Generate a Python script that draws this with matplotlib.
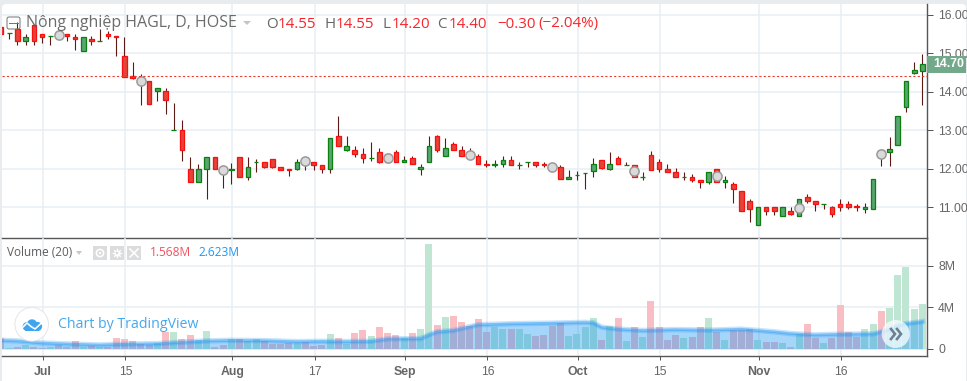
# HAGL daily candles with volume pane, TradingView look

import numpy as np
import matplotlib.pyplot as plt
from matplotlib.patches import Circle, Rectangle, FancyBboxPatch, Polygon

opens = [15.67, 15.52, 15.62, 15.31, 15.72, 15.51, 15.46, 15.50, 15.51, 15.41,
         15.07, 15.36, 15.31, 15.51, 15.46, 14.92, 14.40, 14.33, 14.27, 14.01,
         14.01, 13.00, 13.00, 12.01, 11.65, 12.01, 12.30, 12.00, 11.96, 12.30,
         11.80, 12.19, 12.19, 12.25, 12.06, 12.01, 12.01, 12.19, 12.19, 12.10,
         12.00, 12.86, 12.49, 12.49, 12.39, 12.29, 12.44, 12.39, 12.44, 12.17,
         12.29, 12.00, 12.17, 12.86, 12.34, 12.65, 12.49, 12.38, 12.34, 12.13,
         12.09, 12.12, 12.23, 12.10, 12.18, 12.18, 12.14, 12.08, 12.05, 11.74,
         11.84, 11.90, 11.94, 12.23, 11.99, 12.29, 12.10, 12.10, 11.80, 12.35,
         12.19, 12.01, 11.91, 11.80, 11.80, 11.70, 11.65, 12.01, 11.65, 11.60,
         11.42, 11.16, 10.55, 11.00, 11.00, 10.79, 10.90, 10.79, 11.26, 11.16,
         11.10, 11.00, 11.10, 11.10, 11.05, 10.95, 10.95, 12.50, 12.44, 12.61,
         13.61, 14.50, 14.55]
highs = [15.67, 15.52, 15.80, 15.50, 15.72, 15.51, 15.46, 15.50, 15.51, 15.51,
         15.41, 15.46, 15.62, 15.57, 15.46, 15.43, 14.77, 14.46, 14.27, 14.11,
         14.11, 13.71, 13.27, 12.31, 12.12, 12.30, 12.30, 12.00, 12.15, 12.30,
         12.31, 12.25, 12.19, 12.25, 12.06, 12.01, 12.25, 12.19, 12.19, 12.10,
         12.80, 13.36, 12.86, 12.60, 12.54, 12.70, 12.54, 12.39, 12.49, 12.34,
         12.34, 12.13, 12.86, 12.89, 12.81, 12.70, 12.60, 12.54, 12.39, 12.23,
         12.23, 12.34, 12.34, 12.18, 12.18, 12.18, 12.18, 12.08, 12.10, 11.96,
         11.95, 11.90, 12.29, 12.23, 12.45, 12.34, 12.19, 12.10, 11.91, 12.46,
         12.25, 12.12, 12.02, 11.91, 11.87, 11.70, 11.91, 12.01, 11.81, 11.66,
         11.42, 11.21, 11.00, 11.00, 11.00, 11.00, 11.00, 11.21, 11.36, 11.16,
         11.10, 11.05, 11.21, 11.16, 11.10, 11.11, 11.75, 12.50, 12.83, 13.36,
         14.27, 14.77, 14.98]
lows = [15.50, 15.37, 15.22, 15.22, 15.22, 15.27, 15.22, 15.42, 15.32, 15.08,
        15.07, 15.22, 15.31, 15.37, 14.93, 14.39, 14.34, 13.66, 13.69, 13.76,
        13.43, 13.00, 12.21, 11.65, 11.65, 11.22, 12.01, 11.51, 11.60, 11.80,
        11.71, 11.92, 12.03, 12.03, 11.96, 11.81, 11.98, 11.97, 11.97, 11.90,
        11.90, 12.60, 12.46, 12.30, 12.15, 12.20, 12.15, 12.17, 12.17, 12.17,
        12.12, 11.85, 12.17, 12.45, 12.34, 12.49, 12.34, 12.30, 12.12, 12.06,
        12.06, 12.06, 12.09, 12.01, 12.06, 12.06, 12.06, 12.00, 11.74, 11.74,
        11.70, 11.49, 11.80, 12.00, 11.96, 12.12, 12.10, 11.78, 11.71, 11.96,
        11.92, 11.91, 11.80, 11.71, 11.67, 11.50, 11.61, 11.65, 11.50, 11.12,
        10.90, 10.62, 10.55, 10.81, 10.81, 10.79, 10.81, 10.79, 11.12, 10.91,
        10.97, 10.76, 10.91, 10.97, 10.91, 10.86, 10.95, 12.08, 12.08, 12.61,
        13.48, 14.46, 13.66]
closes = [15.50, 15.52, 15.31, 15.41, 15.31, 15.41, 15.46, 15.45, 15.46, 15.36,
          15.41, 15.31, 15.31, 15.46, 15.41, 14.39, 14.37, 14.27, 13.69, 14.11,
          13.80, 13.00, 12.50, 11.65, 12.01, 12.30, 12.01, 11.95, 12.01, 11.80,
          12.06, 12.19, 12.06, 12.06, 11.96, 11.96, 12.19, 12.12, 12.11, 12.00,
          12.80, 12.60, 12.60, 12.39, 12.29, 12.29, 12.17, 12.17, 12.17, 12.23,
          12.12, 12.05, 12.60, 12.48, 12.54, 12.49, 12.34, 12.30, 12.12, 12.09,
          12.13, 12.23, 12.09, 12.10, 12.18, 12.09, 12.09, 12.02, 11.74, 11.79,
          11.84, 11.90, 12.13, 12.03, 12.13, 12.12, 12.10, 11.78, 11.80, 11.96,
          12.01, 11.91, 11.80, 11.80, 11.70, 11.65, 11.91, 11.65, 11.70, 11.48,
          10.90, 10.95, 11.00, 10.90, 10.90, 11.00, 10.84, 11.21, 11.16, 11.10,
          11.10, 10.84, 11.00, 11.00, 11.00, 11.00, 11.75, 12.30, 12.51, 13.36,
          14.27, 14.56, 14.71]

# millions of shares
volumes = [1.00, 0.10, 0.16, 0.36, 0.16, 0.10, 0.20, 0.33, 0.13, 0.75,
           0.13, 0.26, 0.20, 0.13, 1.04, 0.94, 0.75, 0.45, 0.40, 0.55,
           1.63, 1.63, 0.94, 1.33, 0.85, 1.72, 0.16, 0.36, 0.94, 0.94,
           0.75, 0.94, 0.75, 0.49, 0.49, 0.59, 0.59, 0.65, 0.26, 0.36,
           1.43, 1.04, 0.49, 1.53, 1.82, 1.24, 2.11, 1.53, 1.33, 1.04,
           1.53, 1.92, 10.10, 2.31, 3.09, 3.19, 2.60, 2.20, 2.89, 1.63,
           2.11, 1.92, 1.92, 1.92, 1.43, 1.24, 1.33, 2.20, 2.50, 1.24,
           1.43, 2.11, 2.99, 0.85, 2.20, 2.99, 0.75, 2.11, 1.14, 4.65,
           2.11, 0.85, 1.33, 1.04, 1.14, 2.11, 2.99, 1.63, 0.85, 1.82,
           1.82, 1.92, 0.85, 0.65, 0.65, 0.55, 0.16, 1.43, 2.41, 1.04,
           0.55, 1.04, 4.26, 1.63, 1.14, 1.92, 2.41, 3.67, 3.97, 7.09,
           7.87, 3.87, 4.36]
volume_dir = ("rgrgrrgrrr" "grgrrrrrrg" "rgrrggrrgr" "ggrrrrgrrr"
              "grgrrgrrrg" "rggrgrrrrr" "ggrggrrrrg" "gggrgrgrgr"
              "rrrgrrgrgr" "rrgrrgrgrr" "grrrrggrgg" "ggg")

ma_idx = [0, 2, 5, 8, 12, 14, 19, 22, 25, 28, 32, 36, 39, 41, 45, 47, 51, 52, 53,
          55, 58, 62, 67, 71, 72, 73, 75, 78, 82, 86, 90, 94, 96, 99, 102, 106,
          108, 109, 110, 112]
ma_vals = [0.81, 0.75, 0.55, 0.46, 0.36, 0.42, 0.49, 0.62, 0.75, 0.81, 0.78, 0.68,
           0.72, 0.68, 0.72, 0.94, 0.98, 1.33, 1.63, 1.76, 2.31, 2.41, 2.47, 2.54,
           2.50, 2.08, 1.89, 1.76, 1.85, 1.79, 1.89, 1.63, 1.46, 1.33, 1.40, 1.43,
           1.85, 2.24, 2.41, 2.62]

event_idx = [7, 17, 27, 37, 47, 57, 67, 77, 87, 97, 107]
event_price = [15.47, 14.29, 11.97, 12.20, 12.28, 12.35, 12.04, 11.94, 11.82, 10.98, 12.38]

last_close = 14.40
date_ticks = [5, 15, 28, 38, 49, 59, 70, 80, 92, 102]
date_labels = ['Jul', '15', 'Aug', '17', 'Sep', '16', 'Oct', '15', 'Nov', '16']
price_ticks = [11, 12, 13, 14, 15, 16]
volume_ticks = [0, 4, 8]
volume_tick_labels = ['0', '4M', '8M']

GRID = '#e6eef4'
AXIS = '#565656'
TEXT = '#666666'
W, H = 967, 381
PX = 0.72  # one pixel in points at dpi 100

plt.rcParams['font.family'] = ['Liberation Sans', 'DejaVu Sans']

fig = plt.figure(figsize=(W / 100, H / 100), dpi=100, facecolor='#e9ecef')

back = fig.add_axes([0, 0, 1, 1], zorder=-1)
back.set_xlim(0, W)
back.set_ylim(H, 0)
back.axis('off')
back.add_patch(FancyBboxPatch((6, 8), 956, 400, boxstyle='round,pad=4,rounding_size=4',
                              fc='white', ec='none'))


def pane(top, bottom):
    return fig.add_axes([2 / W, 1 - bottom / H, 925 / W, (bottom - top) / H], facecolor='none')


ax = pane(4, 237.5)
vol = pane(237.5, 356)

# 8.227 px per bar, first bar at x = 1
x_lim = ((2 - 1) / 8.227, (927 - 1) / 8.227)
x = np.arange(len(closes))
grid_x = [d + 0.12 for d in date_ticks]

for a in (ax, vol):
    a.set_xlim(*x_lim)
    a.set_axisbelow(True)
    a.grid(True, color=GRID, lw=1.5 * PX)
    a.yaxis.tick_right()
    for s in ('top', 'left'):
        a.spines[s].set_visible(False)
    for s in ('right', 'bottom'):
        a.spines[s].set_color(AXIS)
        a.spines[s].set_linewidth(1.4 * PX)
    a.set_xticks(grid_x)

# price pane
ax.set_ylim(16 - (237.5 - 14.7) / 38.55, 16 + (14.7 - 4) / 38.55)
ax.set_yticks(price_ticks)
ax.set_yticklabels(['%.2f' % p for p in price_ticks])
ax.tick_params(axis='y', length=4, width=PX, color=AXIS, labelcolor=TEXT, labelsize=8.8, pad=4)
ax.tick_params(axis='x', length=0, labelbottom=False)

ax.vlines(x, lows, highs, color='#5c1a14', lw=1.1 * PX, zorder=2)
is_up = np.array(closes) >= np.array(opens)
body_low = np.minimum(opens, closes)
body_h = np.abs(np.array(closes) - np.array(opens))
ax.bar(x, body_h, bottom=body_low, width=0.56,
       color=['#5aa574' if u else '#e2453a' for u in is_up],
       edgecolor=['#0b800f' if u else '#fa0f0f' for u in is_up],
       linewidth=1.3 * PX, zorder=3)
ax.scatter(event_idx, event_price, s=44, facecolor='#dadada', edgecolor='#9a9a9a',
           linewidth=1.1, zorder=4)
ax.axhline(last_close, color='#ee3b30', lw=1.1 * PX, ls=(0, (2, 2)), zorder=5)

# volume pane
vol.set_ylim(-(356 - 348.7) / 10.35, (348.7 - 237.5) / 10.35)
vol.set_yticks(volume_ticks)
vol.set_yticklabels(volume_tick_labels)
vol.tick_params(axis='y', length=4, width=PX, color=AXIS, labelcolor=TEXT, labelsize=8.8, pad=4)
vol.tick_params(axis='x', length=3, width=PX, color=AXIS, labelcolor=TEXT, labelsize=8.8, pad=4)
vol.set_xticklabels(date_labels)
for lab in vol.get_xticklabels():
    if lab.get_text().isalpha():
        lab.set_fontweight('bold')

vol.bar(x, volumes, width=0.85, color=['#bee6d2' if d == 'g' else '#f8bec3' for d in volume_dir],
        zorder=2)
vol.fill_between(ma_idx, 0, ma_vals, color='#2196f3', alpha=0.4, lw=0, zorder=3)
vol.plot(ma_idx, ma_vals, color='#2196f3', alpha=0.25, lw=5.5 * PX, zorder=4)
vol.plot(ma_idx, ma_vals, color='#2196f3', alpha=0.45, lw=2.6 * PX, zorder=4)

# overlay in pixel coordinates: legends, logo, last price tag
ov = fig.add_axes([0, 0, 1, 1], facecolor='none', zorder=5)
ov.set_xlim(0, W)
ov.set_ylim(H, 0)
ov.axis('off')

SANS = ['Open Sans', 'DejaVu Sans']


def label(px, py, s, color, size, **kw):
    ov.text(px, py, s, color=color, fontsize=size, va='center', family=SANS, **kw)


ov.add_patch(FancyBboxPatch((8, 18), 11, 10, boxstyle='round,pad=1,rounding_size=2',
                            fc='none', ec='#777777', lw=PX))
ov.plot([9, 18], [23, 23], color='#777777', lw=PX)
label(26, 23, 'Nông nghiệp HAGL, D, HOSE', '#5f5f5f', 11.5, alpha=0.92)
ov.add_patch(Polygon([[243, 21], [251, 21], [247, 25]], fc='#c4c4c4', ec='none'))

for px, s in [(266, 'O'), (324, 'H'), (382, 'L'), (437, 'C')]:
    label(px, 24, s, '#666666', 10.9)
for px, s in [(278, '14.55'), (336, '14.55'), (392, '14.20'), (449, '14.40'),
              (497, '−0.30'), (538, '(−2.04%)')]:
    label(px, 24, s, '#f7252c', 10.9)

label(7, 253, 'Volume (20)', '#5c5c5c', 8.5)
ov.add_patch(Polygon([[76, 251], [82, 251], [79, 255]], fc='#c8c8c8', ec='none'))
for px in (93, 110, 127):
    ov.add_patch(Rectangle((px, 246), 14, 14, fc='#dcdcdc', ec='none'))
ov.add_patch(Circle((100, 253), 3.6, fc='none', ec='white', lw=1.6 * PX))
ov.add_patch(Circle((100, 253), 1.1, fc='white', ec='none'))
ov.plot([117], [253], marker=(8, 1, 0), ms=8, color='white', mew=0)
ov.add_patch(Circle((117, 253), 1.4, fc='#dcdcdc', ec='none', zorder=3))
ov.plot([130, 138], [249, 257], color='white', lw=1.6 * PX)
ov.plot([130, 138], [257, 249], color='white', lw=1.6 * PX)
label(150, 253, '1.568M', '#f0525f', 8.6)
label(198, 253, '2.623M', '#2196f3', 8.6)

ov.add_patch(Circle((31.7, 324.3), 16.8, fc='white', ec='#e6e6e6', lw=PX))
for cx, cy, r in [(27, 326.5, 4.4), (32, 324.5, 5.2), (37.5, 326.5, 4.6)]:
    ov.add_patch(Circle((cx, cy), r, fc='#3ea6f0', ec='none', zorder=3))
ov.add_patch(Rectangle((25, 326), 14, 5, fc='#3ea6f0', ec='none', zorder=3))
ov.plot([22.5, 27, 31, 35, 42], [327.5, 323, 326.5, 329, 322.5], color='white', lw=1.6 * PX, zorder=4)
label(58, 324.5, 'Chart by TradingView', '#45a8ef', 10.2)

ov.add_patch(Circle((895.7, 334), 14, fc='white', ec='none', alpha=0.72))
ov.plot([891, 895, 891], [329, 334, 339], color='#6b8090', lw=2.6 * PX, solid_joinstyle='miter')
ov.plot([897, 901, 897], [329, 334, 339], color='#6b8090', lw=2.6 * PX, solid_joinstyle='miter')

ov.add_patch(Rectangle((927, 56), 39, 16.7, fc='#71a98a', ec='none'))
ov.text(933.5, 64.3, '14.70', color='white', fontsize=8.9, fontweight='bold', va='center')

fig.savefig('out.png', dpi=100, facecolor=fig.get_facecolor())
